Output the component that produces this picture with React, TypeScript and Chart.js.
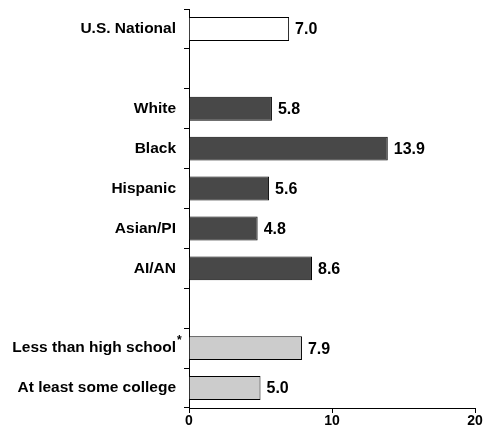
import React, { useEffect, useRef } from "react";
import { Chart, registerables } from "chart.js";

Chart.register(...registerables);

const categories = [
  "U.S. National",
  "",
  "White",
  "Black",
  "Hispanic",
  "Asian/PI",
  "AI/AN",
  "",
  "Less than high school",
  "At least some college",
];
const values: (number | null)[] = [7.0, null, 5.8, 13.9, 5.6, 4.8, 8.6, null, 7.9, 5.0];
const groups = ["national", "", "race", "race", "race", "race", "race", "", "education", "education"];
const footnoted = ["Less than high school"];
const xTicks = [0, 10, 20];

const groupColors: Record<string, string> = {
  national: "#ffffff",
  race: "#484848",
  education: "#cccccc",
  "": "#ffffff",
};

const FONT = "'Liberation Sans', Arial, Helvetica, sans-serif";

export default function App() {
  const ref = useRef<HTMLCanvasElement | null>(null);
  useEffect(() => {
    if (!ref.current) return;
    const valueLabels = {
      id: "valueLabels",
      afterDatasetsDraw(chart: any) {
        const ctx = chart.ctx;
        const meta = chart.getDatasetMeta(0);
        ctx.save();
        ctx.font = `bold 16px ${FONT}`;
        ctx.fillStyle = "#000";
        ctx.textAlign = "left";
        ctx.textBaseline = "middle";
        meta.data.forEach((bar: any, i: number) => {
          const v = values[i];
          if (v == null) return;
          ctx.fillText(v.toFixed(1), bar.x + 6, bar.y + 1);
        });
        ctx.restore();
      },
    };
    const footnote = {
      id: "footnote",
      afterDraw(chart: any) {
        const ctx = chart.ctx;
        const ys = chart.scales.y;
        ctx.save();
        ctx.font = `bold 12px ${FONT}`;
        ctx.fillStyle = "#000";
        ctx.textAlign = "left";
        ctx.textBaseline = "middle";
        categories.forEach((c, i) => {
          if (!footnoted.includes(c)) return;
          const y = ys.getPixelForTick(i);
          ctx.fillText("*", ys.right - 13 + 1, y - 7);
        });
        ctx.restore();
      },
    };
    const chart = new Chart(ref.current, {
      type: "bar",
      data: {
        labels: categories,
        datasets: [
          {
            data: values as any,
            backgroundColor: groups.map((g) => groupColors[g]),
            borderColor: "#000",
            borderWidth: 1,
            barPercentage: 0.6,
            categoryPercentage: 1,
          },
        ],
      },
      options: {
        indexAxis: "y",
        animation: false,
        responsive: true,
        maintainAspectRatio: false,
        layout: { padding: { top: 9, right: 8, left: 0, bottom: 0 } },
        plugins: { legend: { display: false }, tooltip: { enabled: false } },
        scales: {
          x: {
            min: 0,
            max: 20,
            afterBuildTicks(scale: any) {
              scale.ticks = xTicks.map((v) => ({ value: v }));
            },
            afterFit(scale: any) {
              scale.height = 27;
            },
            grid: {
              drawOnChartArea: false,
              drawTicks: true,
              tickLength: 5,
              color: "#000",
            },
            border: { display: true, color: "#000", width: 1 },
            ticks: {
              color: "#000",
              font: { family: FONT, size: 14, weight: "bold" },
              padding: 0,
              maxRotation: 0,
            },
          },
          y: {
            afterFit(scale: any) {
              scale.width = 189;
              scale.paddingTop = 0;
              scale.paddingBottom = 0;
            },
            grid: {
              offset: true,
              drawOnChartArea: false,
              drawTicks: true,
              tickLength: 5,
              color: "#000",
            },
            border: { display: true, color: "#000", width: 1 },
            ticks: {
              color: "#000",
              font: { family: FONT, size: 15.5, weight: "bold" },
              padding: 8,
              autoSkip: false,
            },
          },
        },
      },
      plugins: [valueLabels, footnote],
    });
    return () => chart.destroy();
  }, []);
  return (
    <div style={{ position: "absolute", left: 0, top: 0, width: 483, height: 435 }}>
      <canvas ref={ref} />
    </div>
  );
}
